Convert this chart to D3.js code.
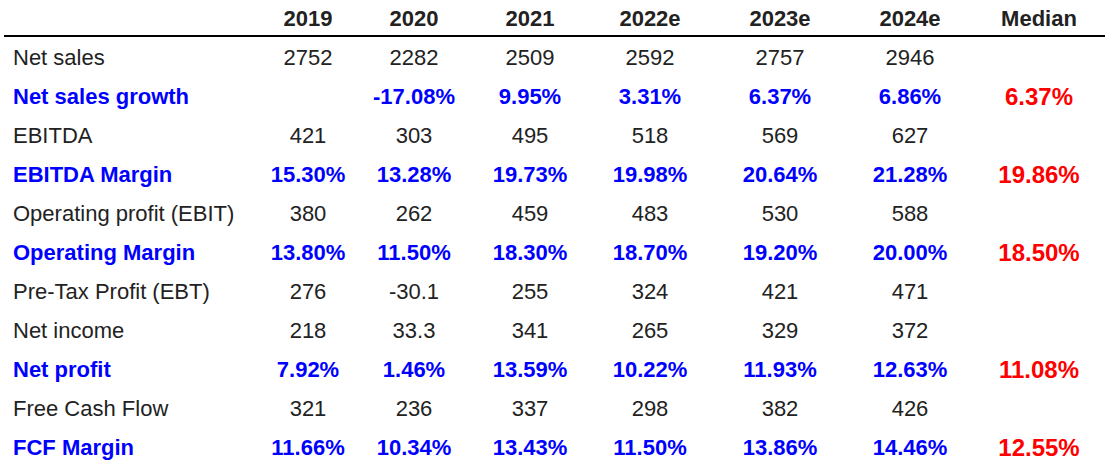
<!DOCTYPE html>
<html>
<head>
<meta charset="utf-8">
<script src="https://cdn.jsdelivr.net/npm/d3@7"></script>
<style>
  body { margin: 0; background: #fff; }
  svg text { font-family: Arial, "Liberation Sans", sans-serif; font-size: 22px; }
</style>
</head>
<body>
<div id="table"></div>
<script>

// columns
var years = ["2019", "2020", "2021", "2022e", "2023e", "2024e"];
var columns = years.concat(["Median"]);

// row labels
var rowLabels = ["Net sales", "Net sales growth", "EBITDA", "EBITDA Margin",
	"Operating profit (EBIT)", "Operating Margin", "Pre-Tax Profit (EBT)",
	"Net income", "Net profit", "Free Cash Flow", "FCF Margin"];

// values per row (null = empty cell)
var netSales = [2752, 2282, 2509, 2592, 2757, 2946];
var netSalesGrowth = [null, -17.08, 9.95, 3.31, 6.37, 6.86];
var ebitda = [421, 303, 495, 518, 569, 627];
var ebitdaMargin = [15.30, 13.28, 19.73, 19.98, 20.64, 21.28];
var ebit = [380, 262, 459, 483, 530, 588];
var operatingMargin = [13.80, 11.50, 18.30, 18.70, 19.20, 20.00];
var ebt = [276, -30.1, 255, 324, 421, 471];
var netIncome = [218, 33.3, 341, 265, 329, 372];
var netProfit = [7.92, 1.46, 13.59, 10.22, 11.93, 12.63];
var freeCashFlow = [321, 236, 337, 298, 382, 426];
var fcfMargin = [11.66, 10.34, 13.43, 11.50, 13.86, 14.46];

// medians of the ratio rows
var medians = [null, 6.37, null, 19.86, null, 18.50, null, null, 11.08, null, 12.55];

var rowValues = [netSales, netSalesGrowth, ebitda, ebitdaMargin, ebit, operatingMargin,
	ebt, netIncome, netProfit, freeCashFlow, fcfMargin];
// which rows are percentages (bold blue)
var isPct = [false, true, false, true, false, true, false, false, true, false, true];


var width = 1105, height = 472;

var svg = d3.select("#table").append("svg")
	.attr("width", width)
	.attr("height", height);

// column centres (auto-sized table columns)
var x = d3.scaleOrdinal()
	.domain(columns)
	.range([308, 414, 530, 650, 780, 910, 1039]);

// row centres, header is row -1
var y = d3.scaleLinear()
	.domain([-1, rowLabels.length - 1])
	.range([18, 447]);

var textColor = "#222";

// header
svg.append("g")
	.selectAll("text")
	.data(columns)
	.enter()
	.append("text")
	.attr("x", function(d) { return x(d); })
	.attr("y", y(-1))
	.attr("dy", "0.36em")
	.attr("text-anchor", "middle")
	.attr("font-weight", "bold")
	.attr("fill", textColor)
	.text(function(d) { return d; });

// header rule
svg.append("line")
	.attr("x1", 4)
	.attr("x2", width)
	.attr("y1", 36)
	.attr("y2", 36)
	.attr("stroke", "#000")
	.attr("stroke-width", 2);

// table body
var rows = rowLabels.map(function(label, i) {
	return {
		label: label,
		index: i,
		pct: isPct[i],
		cells: columns.map(function(c, j) {
			var v = j < years.length ? rowValues[i][j] : medians[i];
			return { col: c, value: v, median: j === years.length };
		})
	};
});

var fmt = function(v, pct) {
	if (v === null) return "";
	return pct ? v.toFixed(2) + "%" : String(v);
};

var row = svg.append("g")
	.selectAll("g.row")
	.data(rows)
	.enter()
	.append("g")
	.attr("class", "row")
	.attr("transform", function(d) { return "translate(0," + y(d.index) + ")"; });

row.append("text")
	.attr("x", 13)
	.attr("dy", "0.36em")
	.attr("font-weight", function(d) { return d.pct ? "bold" : "normal"; })
	.attr("fill", function(d) { return d.pct ? "#0000ff" : textColor; })
	.text(function(d) { return d.label; });

row.selectAll("text.cell")
	.data(function(d) {
		return d.cells.map(function(c) { c.pct = d.pct; return c; });
	})
	.enter()
	.append("text")
	.attr("class", "cell")
	.attr("x", function(d) { return x(d.col); })
	.attr("dy", "0.36em")
	.attr("text-anchor", "middle")
	.attr("font-weight", function(d) { return d.pct ? "bold" : "normal"; })
	.style("font-size", function(d) { return d.median ? "24px" : null; })
	.attr("fill", function(d) {
		if (!d.pct) return textColor;
		return d.median ? "#ff0000" : "#0000ff";
	})
	.text(function(d) { return fmt(d.value, d.pct); });

</script>
</body>
</html>
